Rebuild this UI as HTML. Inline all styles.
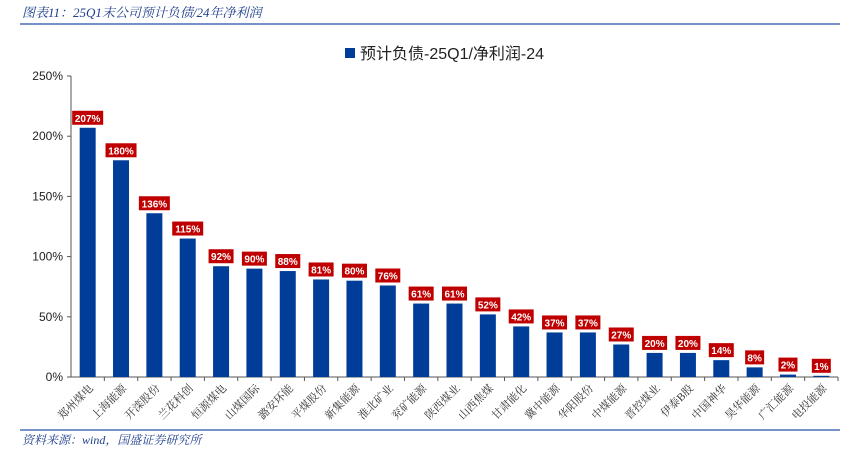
<!DOCTYPE html>
<html><head><meta charset="utf-8"><style>
body{margin:0;background:#fff;width:849px;height:452px;overflow:hidden;font-family:"Liberation Sans","Noto Sans CJK SC",sans-serif}
</style></head><body>
<svg id="c" width="849" height="452" xmlns="http://www.w3.org/2000/svg">
<text x="22" y="17" font-size="13" font-style="italic" fill="#1f3e8c" font-family="'Liberation Serif','Noto Serif CJK SC',serif">图表11：25Q1末公司预计负债/24年净利润</text>
<line x1="20" y1="24" x2="840" y2="24" stroke="#4a6fb5" stroke-width="1.5"/>
<rect x="345" y="48" width="10" height="10" fill="#003d99"/>
<text x="360" y="59" font-size="16" fill="#222">预计负债-25Q1/净利润-24</text>
<g id="g"></g>
<line x1="20" y1="430" x2="840" y2="430" stroke="#4a6fb5" stroke-width="1.5"/>
<text x="22" y="444" font-size="12" font-style="italic" fill="#1f3e8c" font-family="'Liberation Serif','Noto Serif CJK SC',serif">资料来源：wind，国盛证券研究所</text>
</svg>
<script>
const categories=["郑州煤电","上海能源","开滦股份","兰花科创","恒源煤电","山煤国际","潞安环能","平煤股份","新集能源","淮北矿业","兖矿能源","陕西煤业","山西焦煤","甘肃能化","冀中能源","华阳股份","中煤能源","晋控煤业","伊泰B股","中国神华","昊华能源","广汇能源","电投能源"];
const values=[207,180,136,115,92,90,88,81,80,76,61,61,52,42,37,37,27,20,20,14,8,2,1];
const yTicks=[0,50,100,150,200,250];
const NS="http://www.w3.org/2000/svg",g=document.getElementById('g');
const x0=71,x1=838,y0=377,yTop=76,yMax=250;
const step=(x1-x0)/categories.length;
const y=v=>y0-(v/yMax)*(y0-yTop);
const xc=i=>x0+step*(i+0.5);
function mk(t,a){const e=document.createElementNS(NS,t);for(const k in a)e.setAttribute(k,a[k]);g.appendChild(e);return e;}
let ax=mk('line',{x1:x0,y1:yTop,x2:x0,y2:y0,stroke:'#555'});


yTicks.forEach(t=>{
 const tk=mk('line',{x1:x0-4,x2:x0,y1:y(t),y2:y(t),stroke:'#555'});
 
 
 const l=mk('text',{x:x0-8,y:y(t)+4,'font-size':12,'text-anchor':'end',fill:'#222'});l.textContent=t+'%';
 
 
});
let bx=mk('line',{x1:x0,y1:y0,x2:x1,y2:y0,stroke:'#555'});


categories.forEach((c,i)=>{
 const v=values[i],cx=xc(i),bw=16;
 const tk=mk('line',{x1:x0+step*(i+1),x2:x0+step*(i+1),y1:y0,y2:y0+4,stroke:'#555'});
 
 
 const b=mk('rect',{x:cx-bw/2,y:y(v),width:bw,height:y0-y(v),fill:'#003d99'});
 
 
 const w=v>=100?31:(v>=10?25:19);
 const lb=mk('rect',{x:cx-w/2,y:y(v)-17,width:w,height:14,fill:'#c00000'});
 
 
 const lt=mk('text',{x:cx,y:y(v)-6,'font-size':10,'font-weight':'bold','text-anchor':'middle',fill:'#fff'});lt.textContent=v+'%';
 
 
 const xl=mk('text',{x:cx+6,y:y0+12,'font-size':11,'text-anchor':'end',fill:'#333',transform:`rotate(-45 ${cx+6} ${y0+12})`,'font-family':"'Liberation Serif','Noto Serif CJK SC',serif"});xl.textContent=c;
 
 
});
</script>
</body></html>
